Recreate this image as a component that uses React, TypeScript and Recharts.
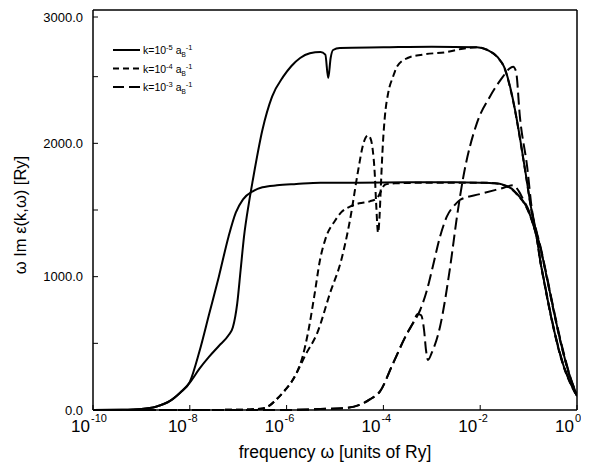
import React from "react";
import { LineChart, Line, XAxis, YAxis, Legend } from "recharts";

// x = log10(frequency / Ry), y = ω Im ε(k,ω) [Ry]
const solidLow: [number, number][] = [
  [-10, 0], [-9.4, 2], [-9.0, 8], [-8.7, 25], [-8.4, 70], [-8.2, 130], [-8.0, 210],
  [-7.8, 440], [-7.6, 720], [-7.4, 1000], [-7.2, 1300], [-7.05, 1480], [-6.9, 1580],
  [-6.7, 1640], [-6.5, 1670], [-6.2, 1685], [-5.8, 1695], [-5.3, 1705], [-4.5, 1705],
  [-3.5, 1708], [-2.5, 1708], [-2.0, 1705], [-1.7, 1700], [-1.53, 1690], [-1.35, 1660],
  [-1.2, 1605], [-1.1, 1560], [-1.0, 1490], [-0.91, 1400], [-0.83, 1290], [-0.764, 1130],
  [-0.661, 930], [-0.558, 740], [-0.455, 570], [-0.351, 420], [-0.248, 300],
  [-0.145, 210], [0, 105],
];

const solidHigh: [number, number][] = [
  [-10, 0], [-9.4, 2], [-9.0, 8], [-8.7, 25], [-8.4, 70], [-8.2, 130], [-8.0, 205],
  [-7.8, 310], [-7.6, 400], [-7.4, 480], [-7.2, 560], [-7.11, 620], [-7.02, 800],
  [-6.95, 1050], [-6.88, 1300], [-6.78, 1550], [-6.7, 1720], [-6.5, 2100], [-6.3, 2350],
  [-6.07, 2500], [-5.9, 2580], [-5.72, 2640], [-5.52, 2675], [-5.3, 2685], [-5.2, 2665],
  [-5.14, 2490], [-5.09, 2640], [-5.04, 2700], [-4.9, 2715], [-4.0, 2720], [-3.0, 2725],
  [-2.07, 2720], [-1.85, 2700], [-1.65, 2650], [-1.49, 2560], [-1.38, 2420],
  [-1.28, 2250], [-1.16, 2000], [-1.05, 1750], [-0.95, 1520], [-0.83, 1320],
  [-0.764, 1230], [-0.661, 1060], [-0.558, 880], [-0.455, 700], [-0.351, 530],
  [-0.248, 380], [-0.145, 250], [0, 110],
];

const shortLow: [number, number][] = [
  [-10, 0], [-8, 0], [-7.0, 2], [-6.7, 5], [-6.49, 12], [-6.34, 37], [-6.18, 90],
  [-6.03, 150], [-5.9, 210], [-5.79, 280], [-5.67, 400], [-5.56, 575], [-5.43, 850],
  [-5.31, 1125], [-5.2, 1280], [-5.0, 1420], [-4.85, 1490], [-4.69, 1525], [-4.5, 1550],
  [-4.28, 1565], [-4.13, 1590], [-4.05, 1640], [-3.97, 1690], [-3.76, 1700], [-3.0, 1705],
  [-2.0, 1705], [-1.7, 1700], [-1.53, 1688], [-1.35, 1655], [-1.2, 1600], [-1.1, 1555],
  [-1.0, 1485], [-0.91, 1395], [-0.83, 1285], [-0.764, 1125], [-0.661, 925],
  [-0.558, 735], [-0.455, 565], [-0.351, 415], [-0.248, 295], [-0.145, 205], [0, 100],
];

const shortHigh: [number, number][] = [
  [-10, 0], [-8, 0], [-7.0, 2], [-6.7, 5], [-6.49, 12], [-6.34, 37], [-6.18, 90],
  [-6.03, 150], [-5.9, 210], [-5.79, 280], [-5.6, 420], [-5.37, 575], [-5.1, 880],
  [-4.87, 1125], [-4.69, 1425], [-4.52, 1800], [-4.42, 1990], [-4.32, 2060],
  [-4.27, 2040], [-4.22, 1950], [-4.18, 1780], [-4.15, 1550], [-4.11, 1330],
  [-4.08, 1450], [-4.05, 1700], [-4.01, 2000], [-3.97, 2200], [-3.9, 2380], [-3.8, 2500],
  [-3.72, 2575], [-3.5, 2640], [-3.2, 2665], [-2.69, 2685], [-2.36, 2710], [-2.07, 2720],
  [-1.85, 2700], [-1.65, 2648], [-1.49, 2555], [-1.38, 2415], [-1.28, 2245],
  [-1.16, 1995], [-1.05, 1745], [-0.95, 1515], [-0.83, 1315], [-0.764, 1225],
  [-0.661, 1055], [-0.558, 875], [-0.455, 695], [-0.351, 525], [-0.248, 375],
  [-0.145, 245], [0, 105],
];

const longLow: [number, number][] = [
  [-10, 0], [-6, 0], [-5.3, 8], [-4.79, 15], [-4.48, 40], [-4.28, 80], [-4.07, 140],
  [-3.8, 350], [-3.51, 575], [-3.39, 650], [-3.24, 750], [-3.1, 900], [-2.98, 1075],
  [-2.83, 1300], [-2.69, 1450], [-2.52, 1540], [-2.42, 1575], [-2.0, 1620],
  [-1.53, 1665], [-1.32, 1685], [-1.2, 1640], [-1.1, 1570], [-1.0, 1500], [-0.91, 1400],
  [-0.83, 1295], [-0.764, 1135], [-0.661, 935], [-0.558, 745], [-0.455, 575],
  [-0.351, 425], [-0.248, 305], [-0.145, 215], [0, 110],
];

const longHigh: [number, number][] = [
  [-10, 0], [-6, 0], [-5.3, 8], [-4.79, 15], [-4.48, 40], [-4.28, 80], [-4.07, 140],
  [-3.8, 350], [-3.51, 575], [-3.39, 650], [-3.29, 720], [-3.22, 710], [-3.16, 600],
  [-3.12, 450], [-3.08, 375], [-3.0, 430], [-2.83, 625], [-2.62, 1075], [-2.48, 1450],
  [-2.36, 1725], [-2.07, 2150], [-1.8, 2350], [-1.53, 2500], [-1.4, 2560], [-1.32, 2575],
  [-1.26, 2540], [-1.18, 2200], [-1.03, 1825], [-0.93, 1500], [-0.83, 1330],
  [-0.764, 1240], [-0.661, 1070], [-0.558, 890], [-0.455, 710], [-0.351, 540],
  [-0.248, 390], [-0.145, 255], [0, 115],
];

const xTicks = [-10, -8, -6, -4, -2, 0];
const yTicks = [0, 500, 1000, 1500, 2000, 2500, 3000];

const legendItems = [
  { exp: "-5", dash: undefined as string | undefined },
  { exp: "-4", dash: "6 4" },
  { exp: "-3", dash: "11 5" },
];

const series = [
  { key: "s1", pts: solidLow, dash: undefined as string | undefined },
  { key: "s2", pts: solidHigh, dash: undefined as string | undefined },
  { key: "d1", pts: shortLow, dash: "7 4" },
  { key: "d2", pts: shortHigh, dash: "7 4" },
  { key: "l1", pts: longLow, dash: "12 5" },
  { key: "l2", pts: longHigh, dash: "12 5" },
];

const FONT = "'Liberation Sans', Arial, Helvetica, sans-serif";
const TICK = 5;

// bottom axis: inward tick + 10^n label
const PowerTick = (props: any) => {
  const { x, y, payload } = props;
  return (
    <g>
      <line x1={x} x2={x} y1={y} y2={y - TICK} stroke="#000" strokeWidth={1} />
      <text x={x - 3} y={y + 22} textAnchor="end" fontSize={17} fill="#000">
        10
      </text>
      <text x={x - 2} y={y + 12} textAnchor="start" fontSize={11} fill="#000">
        {payload.value}
      </text>
    </g>
  );
};

// left axis: inward tick, label only every 1000
const LeftTick = (props: any) => {
  const { x, y, payload } = props;
  const v = payload.value as number;
  return (
    <g>
      <line x1={x + 10} x2={x + 10 + TICK} y1={y} y2={y} stroke="#000" strokeWidth={1} />
      {v % 1000 === 0 && (
        <text x={x} y={y + 4.5} textAnchor="end" fontSize={13} fill="#000">
          {v.toFixed(1)}
        </text>
      )}
    </g>
  );
};

const TopTick = (props: any) => {
  const { x, y } = props;
  return <line x1={x} x2={x} y1={y} y2={y + TICK} stroke="#000" strokeWidth={1} />;
};

const RightTick = (props: any) => {
  const { x, y } = props;
  return <line x1={x} x2={x - TICK} y1={y} y2={y} stroke="#000" strokeWidth={1} />;
};

const LegendBox = () => (
  <svg width={130} height={62} style={{ fontFamily: FONT, display: "block" }}>
    {legendItems.map((it, i) => {
      const cy = 10 + i * 18.5;
      return (
        <g key={it.exp}>
          <line x1={5} x2={32} y1={cy} y2={cy} stroke="#000" strokeWidth={2} strokeDasharray={it.dash} />
          <text x={35} y={cy + 4} fontSize={10.5} fill="#000">
            k=10
            <tspan dy={-4} fontSize={7.5}>{it.exp}</tspan>
            <tspan dy={4} fontSize={10.5}> a</tspan>
            <tspan dy={3} fontSize={6.5}>B</tspan>
            <tspan dy={-7} fontSize={7.5}>-1</tspan>
          </text>
        </g>
      );
    })}
  </svg>
);

export default function App() {
  return (
    <LineChart
      width={581}
      height={458}
      margin={{ top: 0, right: 10, bottom: 0, left: 0 }}
      style={{ fontFamily: FONT }}
    >
      <XAxis
        dataKey="x"
        type="number"
        domain={[-10, 0]}
        ticks={xTicks}
        allowDataOverflow
        height={56}
        tickSize={0}
        tickMargin={0}
        tick={<PowerTick />}
        axisLine={{ stroke: "#000", strokeWidth: 1.5 }}
        tickLine={false}
        label={{
          content: (p: any) => {
            const vb = p.viewBox;
            return (
              <text x={vb.x + vb.width / 2} y={vb.y + 48} textAnchor="middle" fontSize={17.5} fill="#000">
                frequency ω [units of Ry]
              </text>
            );
          },
        }}
      />
      <XAxis
        xAxisId="top"
        orientation="top"
        dataKey="x"
        type="number"
        domain={[-10, 0]}
        ticks={xTicks}
        height={2}
        tickSize={0}
        tickMargin={0}
        tick={<TopTick />}
        axisLine={{ stroke: "#000", strokeWidth: 1.5 }}
        tickLine={false}
      />
      <YAxis
        type="number"
        domain={[0, 3000]}
        ticks={yTicks}
        width={85}
        tickSize={0}
        tickMargin={10}
        tick={<LeftTick />}
        axisLine={{ stroke: "#000", strokeWidth: 1.5 }}
        tickLine={false}
        label={{
          content: (p: any) => {
            const vb = p.viewBox;
            const cx = vb.x + 18;
            const cy = vb.y + vb.height / 2 + 5;
            return (
              <text
                x={cx}
                y={cy}
                transform={`rotate(-90, ${cx}, ${cy})`}
                textAnchor="middle"
                fontSize={16.5}
                fill="#000"
              >
                ω Im ε(k,ω) [Ry]
              </text>
            );
          },
        }}
      />
      <YAxis
        yAxisId="right"
        orientation="right"
        type="number"
        domain={[0, 3000]}
        ticks={yTicks}
        width={2}
        tickSize={0}
        tickMargin={0}
        tick={<RightTick />}
        axisLine={{ stroke: "#000", strokeWidth: 1.5 }}
        tickLine={false}
      />
      <Legend
        layout="horizontal"
        verticalAlign="middle"
        align="center"
        content={() => <LegendBox />}
        wrapperStyle={{ position: "absolute", left: 100, top: 32, width: 130 }}
      />
      {series.map((s) => (
        <Line
          key={s.key}
          data={s.pts.map(([x, y]) => ({ x, y }))}
          dataKey="y"
          type="monotone"
          stroke="#000"
          strokeWidth={2}
          strokeDasharray={s.dash}
          dot={false}
          activeDot={false}
          legendType="none"
          isAnimationActive={false}
        />
      ))}
    </LineChart>
  );
}
